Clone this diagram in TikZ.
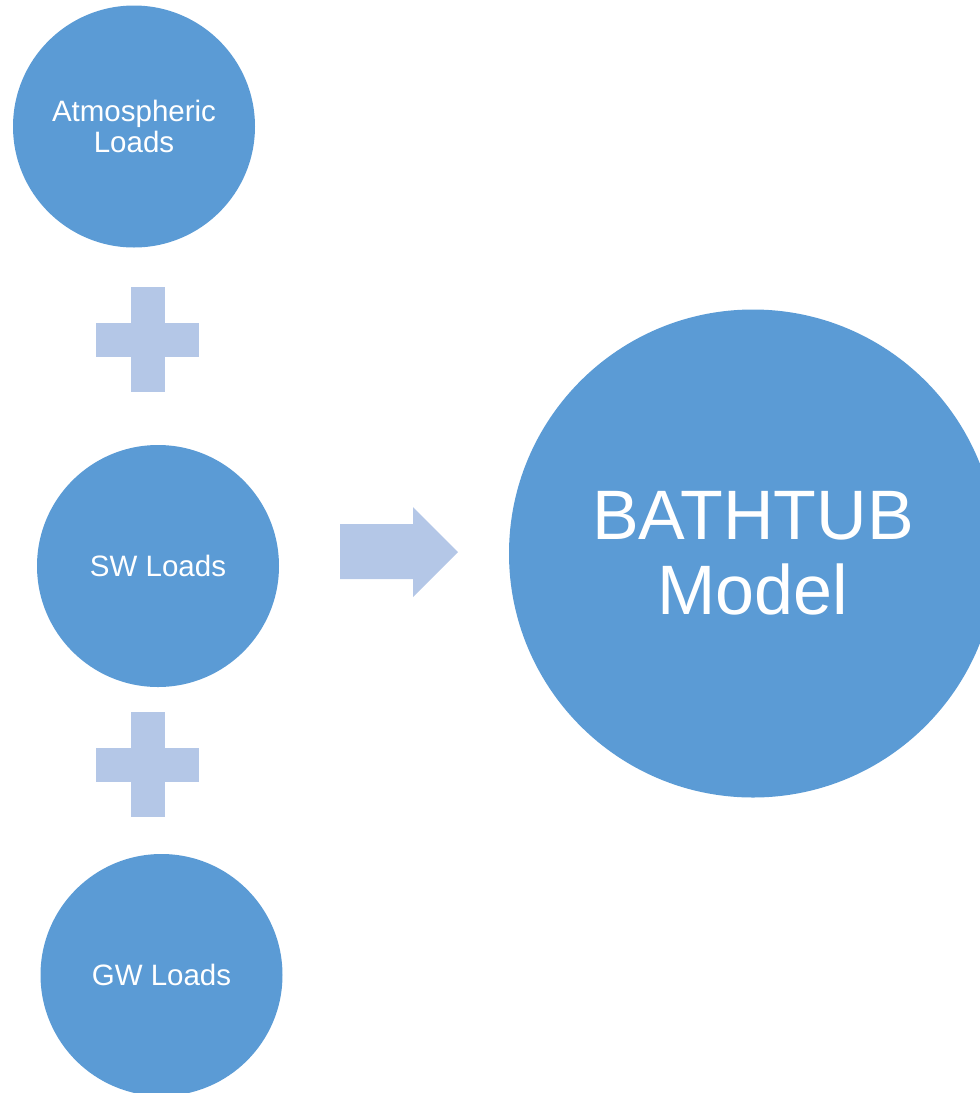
\documentclass[tikz,border=0pt]{standalone}
\usepackage{fontspec}
\setmainfont{Liberation Sans}
\definecolor{ballblue}{HTML}{5B9BD5}
\definecolor{paleblue}{HTML}{B4C7E7}
\tikzset{
  ball/.style={circle, fill=ballblue, draw=none, inner sep=0pt, text=white, align=center},
  smallball/.style={ball, minimum size=242pt, font=\fontsize{29.5}{31}\selectfont},
  bigball/.style={ball, minimum size=488pt, font=\fontsize{70}{75}\selectfont},
  pale/.style={fill=paleblue, draw=none}
}
\begin{document}
\begin{tikzpicture}[x=1pt,y=-1pt]
\useasboundingbox (0,0) rectangle (980,1093);
\clip (0,0) rectangle (980,1093);
\node[smallball] (atm) at (134,126.5) {Atmospheric\\Loads};
\node[smallball] (sw) at (158,566) {SW Loads};
\node[smallball] (gw) at (161.5,975) {GW Loads};
\node[bigball] (bt) at (753,553.5) {BATHTUB\\Model};
% plus signs
\foreach \cy in {340,765}{
  \fill[pale] (131,\cy-53) rectangle (165,\cy+52);
  \fill[pale] (96,\cy-17) rectangle (199,\cy+17);
}
% arrow
\fill[pale] (340,524) -- (413,524) -- (413,507) -- (458,552) -- (413,597) -- (413,579) -- (340,579) -- cycle;
\end{tikzpicture}
\end{document}
